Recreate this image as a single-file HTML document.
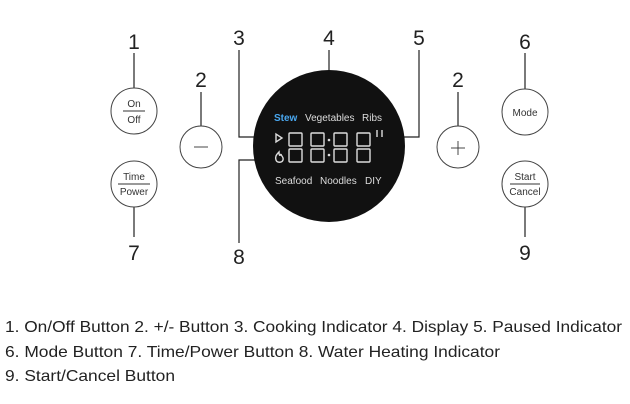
<!DOCTYPE html>
<html><head><meta charset="utf-8"><style>
html,body{margin:0;padding:0;background:#fff;}
svg{display:block;}
</style></head><body>
<svg width="630" height="404" viewBox="0 0 630 404" xmlns="http://www.w3.org/2000/svg" font-family="'Liberation Sans', sans-serif">
<g stroke="#222" stroke-width="1.2" fill="none">
  <line x1="134" y1="53" x2="134" y2="94"/>
  <line x1="134" y1="201" x2="134" y2="237"/>
  <line x1="201" y1="92" x2="201" y2="135"/>
  <line x1="458" y1="92" x2="458" y2="135"/>
  <line x1="525" y1="53" x2="525" y2="94"/>
  <line x1="525" y1="201" x2="525" y2="237"/>
  <line x1="329" y1="50" x2="329" y2="72"/>
  <polyline points="239,50 239,137 256,137"/>
  <polyline points="419,50 419,137 402,137"/>
  <polyline points="256,160 239,160 239,243"/>
</g>
<g fill="#222">
  <circle cx="134" cy="94" r="1.8"/><circle cx="134" cy="201" r="1.8"/>
  <circle cx="201" cy="135" r="1.8"/><circle cx="458" cy="135" r="1.8"/>
  <circle cx="525" cy="94" r="1.8"/><circle cx="525" cy="201" r="1.8"/>
</g>
<g stroke="#444" stroke-width="1" fill="#fff">
  <circle cx="134" cy="111" r="23"/>
  <circle cx="134" cy="184" r="23"/>
  <circle cx="201" cy="147" r="21"/>
  <circle cx="458" cy="147" r="21"/>
  <circle cx="525" cy="112" r="23"/>
  <circle cx="525" cy="184" r="23"/>
</g>
<g stroke="#333" stroke-width="0.9">
  <line x1="123" y1="111" x2="145" y2="111"/>
  <line x1="118" y1="184" x2="150" y2="184"/>
  <line x1="194" y1="147" x2="208" y2="147"/>
  <line x1="451" y1="148" x2="465" y2="148"/>
  <line x1="458" y1="141" x2="458" y2="155"/>
  <line x1="510" y1="184" x2="540" y2="184"/>
</g>
<g font-size="10" fill="#333" text-anchor="middle">
  <text x="134" y="107">On</text>
  <text x="134" y="123">Off</text>
  <text x="134" y="180">Time</text>
  <text x="134" y="195">Power</text>
  <text x="525" y="116">Mode</text>
  <text x="525" y="180">Start</text>
  <text x="525" y="195">Cancel</text>
</g>
<g font-size="21" fill="#222" text-anchor="middle">
  <text x="134" y="49">1</text>
  <text x="201" y="87">2</text>
  <text x="458" y="87">2</text>
  <text x="525" y="49">6</text>
  <text x="239" y="45">3</text>
  <text x="329" y="45">4</text>
  <text x="419" y="45">5</text>
  <text x="134" y="260">7</text>
  <text x="239" y="264">8</text>
  <text x="525" y="260">9</text>
</g>
<circle cx="329" cy="146" r="76" fill="#111"/>
<g font-size="10">
  <text x="274" y="121" fill="#4aa8f0" font-weight="bold">Stew</text>
  <text x="305" y="121" fill="#ddd">Vegetables</text>
  <text x="362" y="121" fill="#ddd">Ribs</text>
  <text x="275" y="184" fill="#ddd">Seafood</text>
  <text x="320" y="184" fill="#ddd">Noodles</text>
  <text x="365" y="184" fill="#ddd">DIY</text>
</g>
<g stroke="#ddd" stroke-width="1.4" fill="none">
  <polygon points="276,134 276,142 282,138"/>
  <path d="M279,152 C276,155 275,157 276,160 C277,163 282,163 283,160 C284,157 281,156 281,154 C280,156 279,156 279,152Z"/>
  <line x1="377" y1="130" x2="377" y2="137"/><line x1="382" y1="130" x2="382" y2="137"/>
  <rect x="289" y="133" width="13" height="13" rx="1"/>
  <rect x="289" y="149" width="13" height="13" rx="1"/>
  <rect x="311" y="133" width="13" height="13" rx="1"/>
  <rect x="311" y="149" width="13" height="13" rx="1"/>
  <rect x="334" y="133" width="13" height="13" rx="1"/>
  <rect x="334" y="149" width="13" height="13" rx="1"/>
  <rect x="357" y="133" width="13" height="13" rx="1"/>
  <rect x="357" y="149" width="13" height="13" rx="1"/>
</g>
<g fill="#ddd"><circle cx="329" cy="140" r="1.3"/><circle cx="329" cy="155" r="1.3"/></g>
<g font-size="16" fill="#222">
  <text x="5" y="332" textLength="617" lengthAdjust="spacingAndGlyphs">1. On/Off Button  2. +/- Button  3. Cooking Indicator  4. Display  5. Paused Indicator</text>
  <text x="5" y="357" textLength="495" lengthAdjust="spacingAndGlyphs">6. Mode Button  7. Time/Power Button  8. Water Heating Indicator</text>
  <text x="5" y="381" textLength="170" lengthAdjust="spacingAndGlyphs">9. Start/Cancel Button</text>
</g>
</svg>
</body></html>
